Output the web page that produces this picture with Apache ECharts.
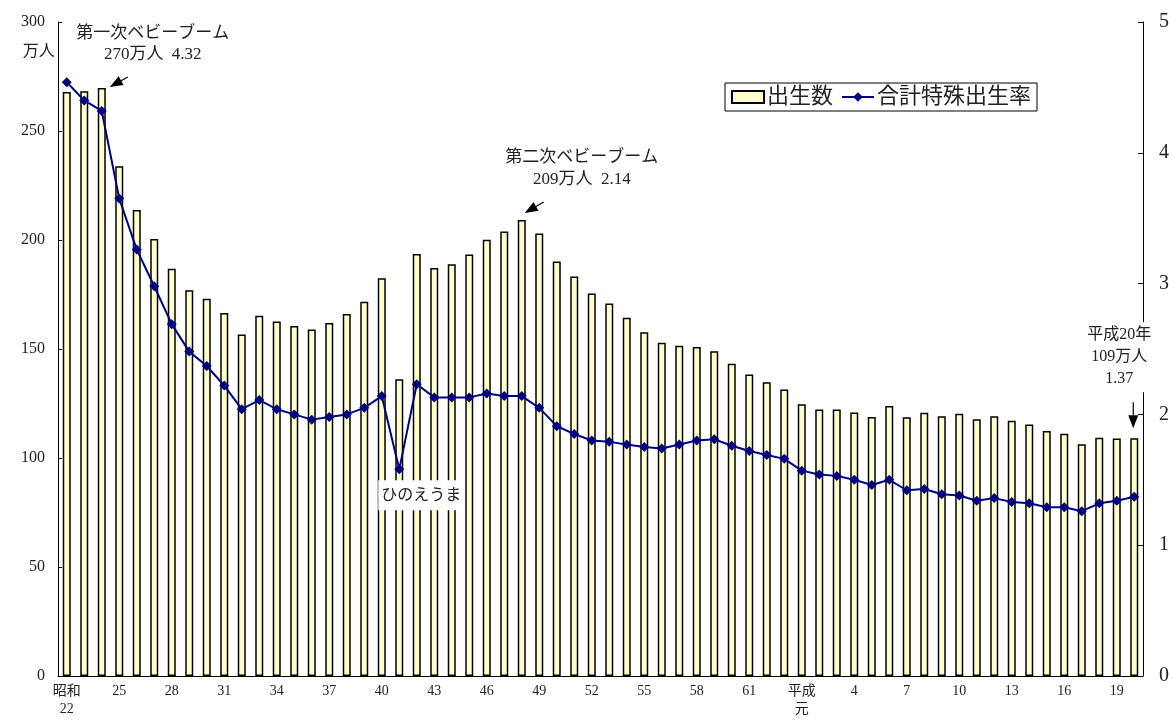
<!DOCTYPE html>
<html>
<head>
<meta charset="utf-8">
<script src="https://cdn.jsdelivr.net/npm/echarts@6/dist/echarts.min.js"></script>
<style>
  html, body { margin: 0; padding: 0; background: #fff; }
  #chart { width: 1173px; height: 719px; }
</style>
</head>
<body>
<div id="chart"></div>
<script>
// 昭和22年(1947) ～ 平成20年(2008)
const years = [
  "昭和\n22", "23", "24", "25", "26", "27", "28", "29", "30", "31",
  "32", "33", "34", "35", "36", "37", "38", "39", "40", "41",
  "42", "43", "44", "45", "46", "47", "48", "49", "50", "51",
  "52", "53", "54", "55", "56", "57", "58", "59", "60", "61",
  "62", "63", "平成\n元", "2", "3", "4", "5", "6", "7", "8",
  "9", "10", "11", "12", "13", "14", "15", "16", "17", "18",
  "19", "20"
];

// 出生数 (万人)
const births = [
  267.9, 268.2, 269.7, 233.8, 213.8, 200.5, 186.8, 177.0, 173.1, 166.5,
  156.7, 165.3, 162.6, 160.6, 158.9, 161.9, 166.0, 171.7, 182.4, 136.1,
  193.6, 187.2, 188.9, 193.4, 200.1, 203.9, 209.2, 203.0, 190.1, 183.3,
  175.5, 170.9, 164.3, 157.7, 152.9, 151.5, 150.9, 149.0, 143.2, 138.3,
  134.7, 131.4, 124.7, 122.2, 122.3, 120.9, 118.8, 123.8, 118.7, 120.7,
  119.2, 120.3, 117.8, 119.1, 117.1, 115.4, 112.4, 111.1, 106.3, 109.3,
  109.0, 109.1
];

// 合計特殊出生率
const tfr = [
  4.54, 4.40, 4.32, 3.65, 3.26, 2.98, 2.69, 2.48, 2.37, 2.22,
  2.04, 2.11, 2.04, 2.00, 1.96, 1.98, 2.00, 2.05, 2.14, 1.58,
  2.23, 2.13, 2.13, 2.13, 2.16, 2.14, 2.14, 2.05, 1.91, 1.85,
  1.80, 1.79, 1.77, 1.75, 1.74, 1.77, 1.80, 1.81, 1.76, 1.72,
  1.69, 1.66, 1.57, 1.54, 1.53, 1.50, 1.46, 1.50, 1.42, 1.43,
  1.39, 1.38, 1.34, 1.36, 1.33, 1.32, 1.29, 1.29, 1.26, 1.32,
  1.34, 1.37
];

const FONT = "'Liberation Serif', 'Noto Sans CJK JP', serif";
const TXT = "#222";

var dom = document.getElementById("chart");
var myChart = echarts.init(dom, null, { renderer: 'canvas' });

var option = {
  animation: false,
  textStyle: { fontFamily: FONT, color: TXT },
  grid: { left: 58, right: 30, top: 22, bottom: 43 },
  legend: {
    left: 725,
    top: 83,
    padding: [3, 6, 3, 6],
    itemGap: 8,
    itemWidth: 32,
    itemHeight: 12,
    borderColor: '#000',
    borderWidth: 1,
    textStyle: { fontFamily: FONT, fontSize: 22, color: TXT, padding: [0, 0, 0, -2] },
    data: [{ name: '出生数', icon: 'rect' }, { name: '合計特殊出生率' }]
  },
  xAxis: {
    type: 'category',
    data: years,
    axisLine: { lineStyle: { color: '#000', width: 1 } },
    axisTick: { inside: true, length: 4, interval: 0, lineStyle: { color: '#000' } },
    axisLabel: {
      interval: 2,
      margin: 6,
      fontSize: 14,
      lineHeight: 18,
      color: TXT,
      fontFamily: FONT
    },
    splitLine: { show: false }
  },
  yAxis: [
    {
      type: 'value',
      min: 0,
      max: 300,
      interval: 50,
      axisLine: { show: true, lineStyle: { color: '#000' } },
      axisTick: { show: true, inside: true, length: 4, lineStyle: { color: '#000' } },
      axisLabel: { margin: 13, fontSize: 16, color: TXT, fontFamily: FONT },
      splitLine: { show: false }
    },
    {
      type: 'value',
      min: 0,
      max: 5,
      interval: 1,
      position: 'right',
      axisLine: { show: true, lineStyle: { color: '#000' } },
      axisTick: { show: true, inside: true, length: 5, lineStyle: { color: '#000' } },
      axisLabel: { margin: 16, fontSize: 20, color: TXT, fontFamily: FONT },
      splitLine: { show: false }
    }
  ],
  series: [
    {
      name: '出生数',
      type: 'bar',
      data: births,
      barWidth: 8,
      itemStyle: { color: '#FFFFCC', borderColor: '#000', borderWidth: 1.5 }
    },
    {
      name: '合計特殊出生率',
      type: 'line',
      yAxisIndex: 1,
      data: tfr,
      symbol: 'diamond',
      symbolSize: 10,
      z: 5,
      lineStyle: { color: '#000080', width: 2 },
      itemStyle: { color: '#000080' }
    }
  ]
};

myChart.setOption(option);

// annotations placed relative to data points
function barTop(i) {
  return myChart.convertToPixel({ xAxisIndex: 0, yAxisIndex: 0 }, [i, births[i]]);
}
function ratePt(i) {
  return myChart.convertToPixel({ xAxisIndex: 0, yAxisIndex: 1 }, [i, tfr[i]]);
}

function arrow(tip, dx, dy) {
  // tip: arrow head point, (dx,dy): direction from tip to tail
  var len = Math.sqrt(dx * dx + dy * dy);
  var ux = dx / len, uy = dy / len;
  var headLen = 13, headW = 5;
  var bx = tip[0] + ux * headLen, by = tip[1] + uy * headLen;
  return [
    {
      type: 'polygon',
      z: 100,
      shape: { points: [tip, [bx - uy * headW, by + ux * headW], [bx + uy * headW, by - ux * headW]] },
      style: { fill: '#000' }
    },
    {
      type: 'line',
      z: 100,
      shape: { x1: bx, y1: by, x2: tip[0] + dx, y2: tip[1] + dy },
      style: { stroke: '#000', lineWidth: 1.2 }
    }
  ];
}

function label(text, x, y, extra) {
  return {
    type: 'text',
    z: 100,
    x: x,
    y: y,
    style: Object.assign({
      text: text,
      fontFamily: FONT,
      fontSize: 17,
      lineHeight: 22,
      fill: TXT,
      align: 'center',
      verticalAlign: 'middle'
    }, extra || {})
  };
}

var p1 = barTop(2);
var p2 = barTop(26);
var p3 = barTop(61);
var h = ratePt(19);
var origin = myChart.convertToPixel({ xAxisIndex: 0, yAxisIndex: 0 }, [0, 300]);

var graphics = [];
graphics = graphics.concat(arrow([p1[0] + 8, p1[1] - 1], 18, -10));
graphics = graphics.concat(arrow([p2[0] + 3, p2[1] - 7], 19, -11));
graphics = graphics.concat(arrow([p3[0] - 1, p3[1] - 10], 0, -26));

graphics.push(label('第一次ベビーブーム\n270万人  4.32', p1[0] + 51, p1[1] - 44, { lineHeight: 21 }));
graphics.push(label('第二次ベビーブーム\n209万人  2.14', p2[0] + 60, p2[1] - 51, { lineHeight: 22 }));
graphics.push(label('平成20年\n109万人\n1.37', p3[0] - 15, p3[1] - 81, {
  fontSize: 16, backgroundColor: '#fff', padding: [2, 2, 2, 2]
}));
graphics.push(label('ひのえうま', h[0] + 22, h[1] + 26, {
  fontSize: 16, backgroundColor: '#fff', padding: [4, 3, 4, 3]
}));
graphics.push(label('万人', origin[0] - 28, origin[1] + 30, { fontSize: 16 }));

myChart.setOption({ graphic: { elements: graphics } });

window.addEventListener('resize', myChart.resize);
</script>
</body>
</html>
